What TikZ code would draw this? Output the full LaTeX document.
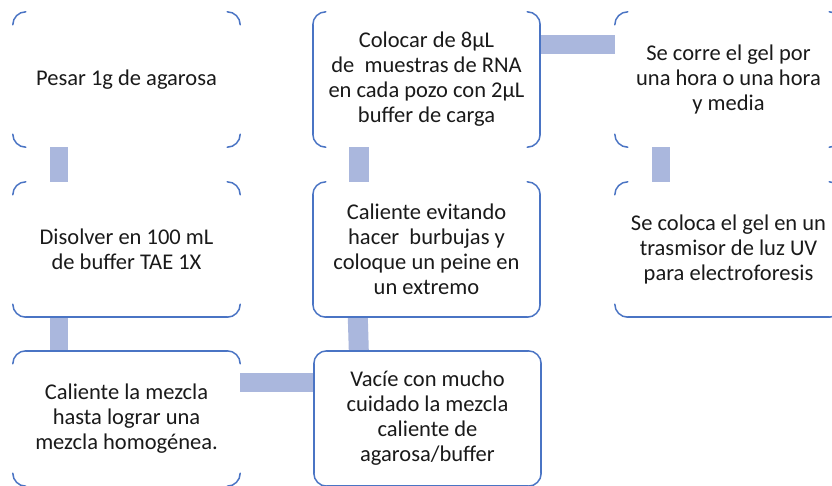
\documentclass[tikz,border=0pt]{standalone}
\usepackage{fontspec}
\setmainfont{Carlito}
\definecolor{bordc}{HTML}{4A74C4}
\definecolor{connc}{HTML}{AAB7DD}
\definecolor{txtc}{HTML}{1A1A1A}
\newcommand{\rr}{13pt}
\newcommand{\boxcorners}[1]{%
  \draw[bd] ([yshift=-\rr]#1.north west) arc (180:90:\rr);
  \draw[bd] ([xshift=-\rr]#1.north east) arc (90:0:\rr);
  \draw[bd] ([yshift=\rr]#1.south east) arc (0:-90:\rr);
  \draw[bd] ([xshift=\rr]#1.south west) arc (270:180:\rr);}
\newcommand{\sideleft}[1]{\draw[bd] ([yshift=-\rr]#1.north west) -- ([yshift=\rr]#1.south west);}
\newcommand{\sideright}[1]{\draw[bd] ([yshift=-\rr]#1.north east) -- ([yshift=\rr]#1.south east);}
\newcommand{\sidetop}[1]{\draw[bd] ([xshift=\rr]#1.north west) -- ([xshift=-\rr]#1.north east);}
\newcommand{\sidebottom}[1]{\draw[bd] ([xshift=\rr]#1.south west) -- ([xshift=-\rr]#1.south east);}
\tikzset{
  stepbox/.style={rectangle, minimum width=227pt, minimum height=135pt, inner sep=0pt,
    align=center, text=txtc, font=\fontsize{22.5}{25}\selectfont},
  bd/.style={draw=bordc, line width=1.5pt, line cap=round},
  conn/.style={draw=connc, line width=18pt, line cap=butt},
}
\begin{document}
\begin{tikzpicture}[x=1pt, y=-1pt]
\useasboundingbox (0,0) rectangle (832,485);
\fill[white] (0,0) rectangle (832,485);
% connectors (drawn first)
\node[stepbox] (b1) at (126.5,79.5) {Pesar 1g de agarosa};
\node[stepbox] (b2) at (426.5,79.5) {Colocar de 8µL\\de~ muestras de RNA\\en cada pozo con 2µL\\buffer de carga};
\node[stepbox] (b3) at (728.5,79.5) {Se corre el gel por\\una hora o una hora\\y media};
\node[stepbox] (b4) at (126.5,249.5) {Disolver en 100 mL\\de buffer TAE 1X};
\node[stepbox] (b5) at (426.5,249.5) {Caliente evitando\\hacer~ burbujas y\\coloque un peine en\\un extremo};
\node[stepbox] (b6) at (728.5,249.5) {Se coloca el gel en un\\trasmisor de luz UV\\para electroforesis};
\node[stepbox] (b7) at (126.5,418.5) {Caliente la mezcla\\hasta lograr una\\mezcla homogénea.};
\node[stepbox] (b8) at (427.5,418.5) {Vacíe con mucho\\cuidado la mezcla\\caliente de\\agarosa/buffer};
% connectors
\draw[conn] ([xshift=46pt]b1.south west) -- ([xshift=46pt]b4.north west);
\draw[conn] ([xshift=46pt]b4.south west) -- ([xshift=46pt]b7.north west);
\draw[conn, line width=19pt] ([yshift=-32pt]b7.north east) -- ([yshift=-32pt]b8.north west);
\draw[conn, line width=20pt] ([xshift=45pt]b8.north west) -- ([xshift=45pt]b5.south west);
\draw[conn, line width=20pt] ([xshift=46pt]b5.north west) -- ([xshift=46pt]b2.south west);
\draw[conn, line width=19pt] ([yshift=-33pt]b2.north east) -- ([yshift=-33pt]b3.north west);
\draw[conn] ([xshift=46pt]b3.south west) -- ([xshift=46pt]b6.north west);
% box borders (partial, as shown)
\boxcorners{b1}
\boxcorners{b2} \sideleft{b2} \sideright{b2}
\boxcorners{b3}
\boxcorners{b4} \sidebottom{b4}
\boxcorners{b5} \sideleft{b5} \sideright{b5} \sidebottom{b5}
\boxcorners{b6} \sidebottom{b6}
\boxcorners{b7} \sidetop{b7}
\boxcorners{b8} \sideleft{b8} \sideright{b8} \sidetop{b8} \sidebottom{b8}
\end{tikzpicture}
\end{document}
